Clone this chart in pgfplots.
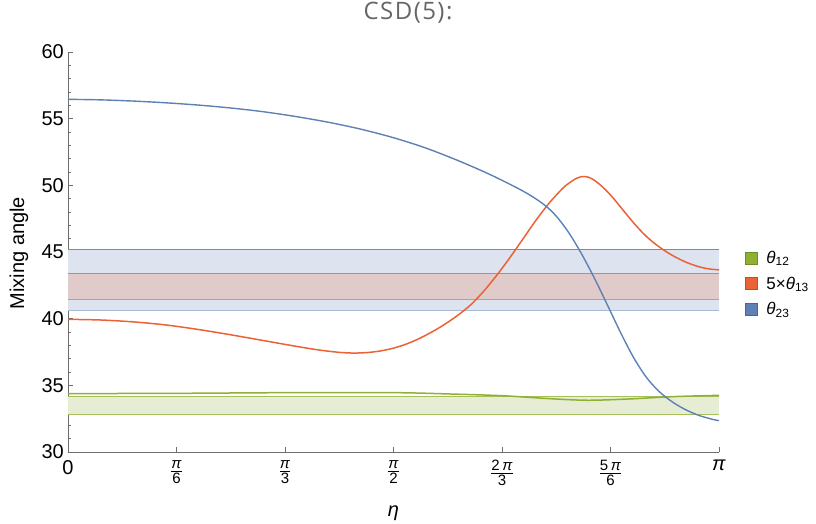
\documentclass[border=0pt]{standalone}
\usepackage{fontspec}
\setmainfont{Liberation Sans}
\newfontfamily\titlefont[LetterSpace=6]{Open Sans}
\usepackage{pgfplots}
\pgfplotsset{compat=1.18}

\definecolor{cblue}{HTML}{5E81B5}
\definecolor{cred}{HTML}{EB6235}
\definecolor{cgreen}{HTML}{8FB032}
\definecolor{bandblue}{HTML}{DDE3EF}
\definecolor{bandred}{HTML}{E0CACA}
\definecolor{bandgreen}{HTML}{E7EDD5}
\definecolor{axgray}{HTML}{6E6E6E}

\newcommand{\pifrac}[2]{$\frac{\mbox{\fontsize{15}{15}\selectfont #1}}{\mbox{\fontsize{15}{15}\selectfont #2}}$}

\pgfplotstableread{
x y
0 56.45
0.05 56.41
0.10 56.32
0.15 56.19
0.20 56.02
0.25 55.80
0.30 55.52
0.35 55.16
0.40 54.73
0.45 54.21
0.50 53.57
0.55 52.79
0.60 51.84
0.65 50.77
0.70 49.54
0.73 48.60
0.75 47.69
0.77 46.39
0.79 44.76
0.81 42.90
0.83 40.88
0.85 38.84
0.87 36.98
0.89 35.50
0.91 34.45
0.93 33.70
0.95 33.14
0.97 32.73
0.99 32.45
1.00 32.35
}\blue

\pgfplotstableread{
x y
0 39.95
0.05 39.9
0.10 39.76
0.15 39.53
0.20 39.19
0.25 38.79
0.30 38.36
0.35 37.93
0.38 37.69
0.40 37.56
0.42 37.46
0.44 37.42
0.46 37.46
0.48 37.58
0.50 37.79
0.52 38.1
0.54 38.52
0.56 39.03
0.58 39.62
0.60 40.3
0.62 41.1
0.64 42.14
0.66 43.34
0.68 44.66
0.70 46.06
0.72 47.46
0.74 48.72
0.76 49.78
0.77 50.18
0.78 50.5
0.79 50.66
0.80 50.6
0.81 50.33
0.82 49.93
0.83 49.45
0.84 48.9
0.85 48.3
0.86 47.7
0.87 47.12
0.88 46.58
0.89 46.1
0.90 45.68
0.915 45.15
0.93 44.7
0.95 44.22
0.97 43.88
0.985 43.73
1.00 43.66
}\red

\pgfplotstableread{
x y
0 34.38
0.167 34.4
0.335 34.45
0.501 34.45
0.587 34.35
0.668 34.22
0.740 34.0
0.799 33.88
0.863 33.98
0.928 34.15
1 34.25
}\green

\begin{document}
\begin{tikzpicture}
\begin{axis}[
  at={(0,0)}, anchor=south west,
  scale only axis, width=651pt, height=400pt,
  xmin=0, xmax=1, ymin=30, ymax=60,
  axis x line*=bottom, axis y line*=left,
  axis line style={color=axgray, line width=0.8pt},
  xtick={0,0.1666667,0.3333333,0.5,0.6666667,0.8333333,1},
  xticklabels={0,\pifrac{\textit{π}}{6},\pifrac{\textit{π}}{3},\pifrac{\textit{π}}{2},\pifrac{2\,\textit{π}}{3},\pifrac{5\,\textit{π}}{6},\textit{π}},
  ytick={30,35,...,60},
  minor y tick num=4,
  tick align=inside,
  major tick length=5pt, minor tick length=3pt,
  tick style={color=axgray, line width=0.6pt},
  y tick label style={font=\fontsize{20}{24}\selectfont, inner sep=0pt, xshift=-4pt, /pgf/number format/assume math mode=true},
  x tick label style={font=\fontsize{20}{24}\selectfont, inner sep=0pt, yshift=-8pt},
  xlabel={\textit{η}},
  xlabel style={at={(axis description cs:0.5,0)}, anchor=center, yshift=-61pt, font=\fontsize{20}{24}\selectfont},
  ylabel={Mixing angle},
  ylabel style={at={(axis description cs:-0.0753,0.4975)}, anchor=center, font=\fontsize{20}{24}\selectfont},
  title={CSD(5):},
  title style={at={(axis description cs:0.5223,1.0825)}, anchor=center, font=\titlefont\fontsize{24}{28}\selectfont, text=black!60},
  legend style={at={(axis description cs:1.04,0.421)}, anchor=west, draw=none, fill=none, inner sep=0pt, font=\fontsize{17}{19}\selectfont, row sep=10pt, nodes={inner sep=1pt}},
  legend cell align=left,
  clip=false,
]
% bands
\addplot[forget plot, draw=none, fill=bandblue] coordinates {(0,40.6) (1,40.6) (1,45.17) (0,45.17)} -- cycle;
\addplot[forget plot, draw=none, fill=bandred] coordinates {(0,41.46) (1,41.46) (1,43.4) (0,43.4)} -- cycle;
\addplot[forget plot, draw=none, fill=bandgreen] coordinates {(0,32.82) (1,32.82) (1,34.18) (0,34.18)} -- cycle;
\addplot[forget plot, cblue!90, line width=0.8pt] coordinates {(0,45.17) (1,45.17)};
\addplot[forget plot, cblue!55, line width=1.2pt] coordinates {(0,40.6) (1,40.6)};
\addplot[forget plot, cred!85, line width=0.8pt] coordinates {(0,43.4) (1,43.4)};
\addplot[forget plot, cred!75, line width=0.8pt] coordinates {(0,41.46) (1,41.46)};
\addplot[forget plot, cgreen!80, line width=0.8pt] coordinates {(0,34.18) (1,34.18)};
\addplot[forget plot, cgreen!80, line width=0.8pt] coordinates {(0,32.82) (1,32.82)};
% curves
\addplot[forget plot, cgreen, line width=1.5pt, smooth] table[x=x,y=y] {\green};
\addplot[forget plot, cred, line width=1.5pt, smooth] table[x=x,y=y] {\red};
\addplot[forget plot, cblue, line width=1.4pt, smooth] table[x=x,y=y] {\blue};
% legend
\addlegendimage{legend image code/.code={\path[draw=none] (0pt,0pt) -- (20pt,0pt);\draw[draw=cgreen!80!black, fill=cgreen, line width=0.4pt] (0pt,-6pt) rectangle (12pt,6pt);}}
\addlegendentry{\textit{θ}\textsubscript{12}}
\addlegendimage{legend image code/.code={\path[draw=none] (0pt,0pt) -- (20pt,0pt);\draw[draw=cred!80!black, fill=cred, line width=0.4pt] (0pt,-6pt) rectangle (12pt,6pt);}}
\addlegendentry{5×\textit{θ}\textsubscript{13}}
\addlegendimage{legend image code/.code={\path[draw=none] (0pt,0pt) -- (20pt,0pt);\draw[draw=cblue!80!black, fill=cblue, line width=0.4pt] (0pt,-6pt) rectangle (12pt,6pt);}}
\addlegendentry{\textit{θ}\textsubscript{23}}
\end{axis}
\pgfresetboundingbox
\path[use as bounding box] (-68pt,-72pt) rectangle (748pt,452pt);
\end{tikzpicture}
\end{document}
